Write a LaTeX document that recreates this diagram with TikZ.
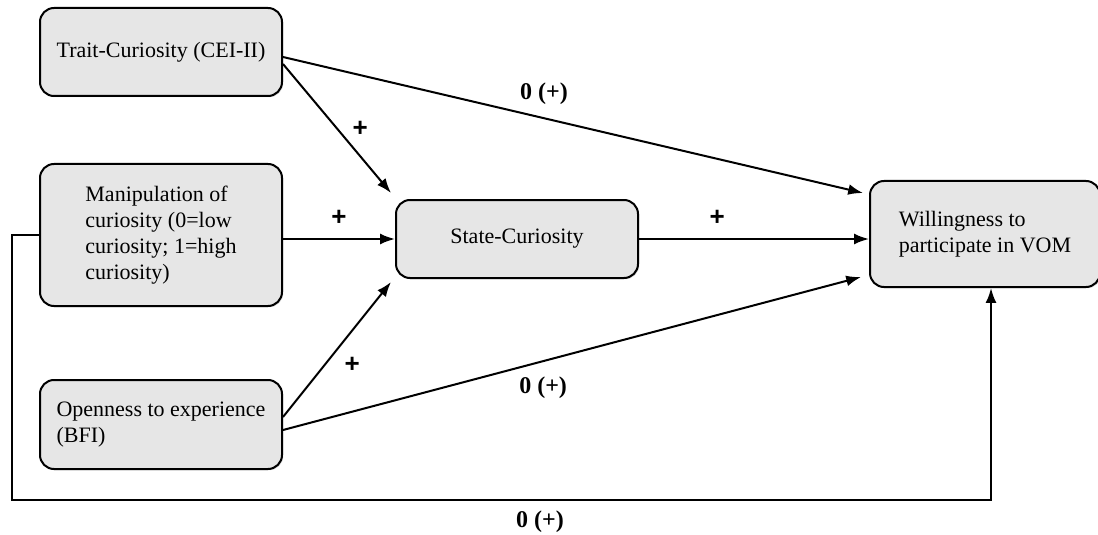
\documentclass[tikz,border=0pt]{standalone}
\usepackage{fontspec}
\setmainfont{Liberation Serif}
\setsansfont{Liberation Sans}
\usetikzlibrary{arrows.meta,positioning,shadows,calc}
\definecolor{boxgray}{HTML}{E6E6E6}

\begin{document}
\begin{tikzpicture}[
  x=0.5pt, y=-0.5pt,
  node distance=30pt,
  varbox/.style={draw, line width=1pt, rounded corners=7pt, fill=boxgray, minimum width=121pt, minimum height=44pt, align=center, font=\fontsize{11}{13}\selectfont, inner sep=3pt, drop shadow={opacity=0.3, shadow xshift=0.6pt, shadow yshift=-0.6pt}},
  arr/.style={-{Latex[length=2.6mm, width=1.9mm]}, line width=1pt},
  eff/.style={font=\bfseries\fontsize{12}{14}\selectfont},
  plus/.style={font=\sffamily\bfseries\fontsize{13}{15}\selectfont}
]
\useasboundingbox (0,0) rectangle (1098,535);
\node[varbox] (trait) at (161,52) {Trait-Curiosity (CEI-II)};
\node[varbox, below=33pt of trait, minimum height=71pt, align=left] (manip) {Manipulation of\\curiosity (0=low\\curiosity; 1=high\\curiosity)};
\node[varbox, below=36pt of manip, minimum height=44.5pt, align=left] (open) {Openness to experience\\(BFI)};
\node[varbox, right=56pt of manip, minimum height=39pt, yshift=-2pt] (state) {State-Curiosity};
\node[varbox, right=115pt of state, minimum width=115pt, minimum height=53pt, align=left, yshift=2.5pt] (will) {Willingness to\\participate in VOM};
\coordinate (corner) at (12,500);
\draw[arr] ([yshift=-2.5pt]trait.east) -- node[eff, pos=0.45, above=3pt] {0 (+)} ($(will.north west)+(-6,13)$);
\draw[arr] ([yshift=-6pt]trait.east) -- node[plus, right=4pt] {+} ($(state.north west)+(-4,-6)$);
\draw[arr] (manip.east |- state.west) -- node[plus, above=3pt] {+} (state.west);
\draw[arr] (state.east) -- node[plus, above=3pt, pos=0.34] {+} (state.east -| will.west);
\draw[arr] ([yshift=3.75pt]open.east) -- node[plus, below right] {+} ($(state.south west)+(-4,3)$);
\draw[arr] ([yshift=-2.75pt]open.east) -- node[eff, pos=0.45, below=4pt] {0 (+)} ($(will.south west)+(-8,-11)$);
\draw[arr] (manip.west) -| (corner) -| ([xshift=3pt]will.south);
\node[eff] (direct) at (540,522) {0 (+)};
\end{tikzpicture}
\end{document}
